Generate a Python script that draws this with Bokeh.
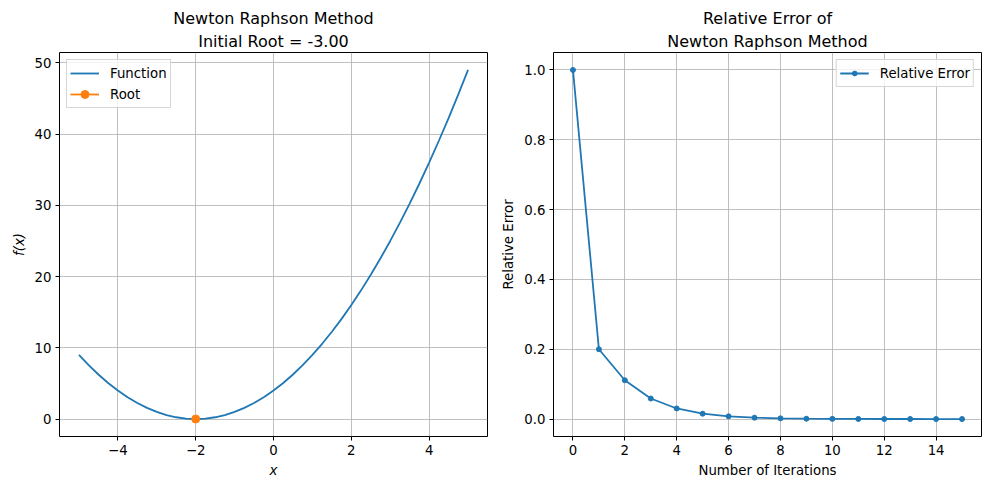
from bokeh.plotting import figure
from bokeh.layouts import row
from bokeh.models import FixedTicker, Title, Range1d, Legend, LegendItem
from bokeh.embed import file_html
from bokeh.resources import INLINE

# ---- data ----
fx = [-5.0, -4.75, -4.5, -4.25, -4.0, -3.75, -3.5, -3.25, -3.0, -2.75, -2.5, -2.25, -2.0,
      -1.75, -1.5, -1.25, -1.0, -0.75, -0.5, -0.25, 0.0, 0.25, 0.5, 0.75, 1.0, 1.25, 1.5,
      1.75, 2.0, 2.25, 2.5, 2.75, 3.0, 3.25, 3.5, 3.75, 4.0, 4.25, 4.5, 4.75, 5.0]
fy = [9.0, 7.5625, 6.25, 5.0625, 4.0, 3.0625, 2.25, 1.5625, 1.0, 0.5625, 0.25, 0.0625, 0.0,
      0.0625, 0.25, 0.5625, 1.0, 1.5625, 2.25, 3.0625, 4.0, 5.0625, 6.25, 7.5625, 9.0,
      10.5625, 12.25, 14.0625, 16.0, 18.0625, 20.25, 22.5625, 25.0, 27.5625, 30.25,
      33.0625, 36.0, 39.0625, 42.25, 45.5625, 49.0]
root_x = [-2.0]
root_y = [0.0]
iterations = [0, 1, 2, 3, 4, 5, 6, 7, 8, 9, 10, 11, 12, 13, 14, 15]
rel_err = [1.0, 0.2, 0.1111, 0.0588, 0.0303, 0.0154, 0.0078, 0.0039, 0.00195, 0.00098,
           0.00049, 0.00024, 0.00012, 0.00006, 0.00003, 0.000015]

left_xticks = [-4, -2, 0, 2, 4]
left_yticks = [0, 10, 20, 30, 40, 50]
right_xticks = [0, 2, 4, 6, 8, 10, 12, 14]
right_yticks = [0.0, 0.2, 0.4, 0.6, 0.8, 1.0]

BLUE = "#1f77b4"
ORANGE = "#ff7f0e"
FONT = "DejaVu Sans"
FS = "13.3px"


def style(p):
    p.outline_line_color = "black"
    p.outline_line_width = 1
    for ax in (p.xaxis[0], p.yaxis[0]):
        ax.axis_line_color = None
        ax.major_tick_in = 0
        ax.major_tick_out = 4
        ax.minor_tick_line_color = None
        ax.major_label_text_font = FONT
        ax.major_label_text_font_size = FS
        ax.major_label_text_color = "black"
        ax.axis_label_text_font = FONT
        ax.axis_label_text_font_size = FS
        ax.axis_label_text_font_style = "normal"
        ax.axis_label_text_color = "black"
        ax.major_label_standoff = 4
    p.grid.grid_line_color = "#b0b0b0"
    p.grid.grid_line_width = 0.8
    p.background_fill_color = "white"
    p.border_fill_color = "white"


def add_titles(p, lines):
    n = len(lines)
    for i, t in enumerate(reversed(lines)):
        p.add_layout(Title(text=t, align="center", text_font=FONT, text_font_size="16px",
                           text_font_style="normal", text_color="black",
                           standoff=4 if i == 0 else 0), "above")


def minus(v):
    s = f"{v:g}"
    return s.replace("-", "\u2212")


# ---- left ----
p1 = figure(width=494, height=489, output_backend="svg", toolbar_location=None,
            x_range=Range1d(-5.5, 5.5), y_range=Range1d(-2.45, 51.45),
            min_border_left=59, min_border_right=7, min_border_top=52, min_border_bottom=53)
style(p1)
p1.xaxis.ticker = FixedTicker(ticks=left_xticks)
p1.yaxis.ticker = FixedTicker(ticks=left_yticks)
p1.xaxis.major_label_overrides = {t: minus(t) for t in left_xticks}
p1.xaxis.axis_label = "x"
p1.yaxis.axis_label = "f(x)"
p1.xaxis.axis_label_text_font_style = "italic"
p1.yaxis.axis_label_text_font_style = "italic"
add_titles(p1, ["Newton Raphson Method", "Initial Root = -3.00"])

r_f = p1.line(fx, fy, line_color=BLUE, line_width=1.8)
r_rl = p1.line(root_x, root_y, line_color=ORANGE, line_width=1.8)
r_rs = p1.scatter(root_x, root_y, size=8, color=ORANGE)
leg1 = Legend(items=[LegendItem(label="Function", renderers=[r_f]),
                     LegendItem(label="Root", renderers=[r_rl, r_rs])],
              location="top_left")
p1.add_layout(leg1, "center")

# ---- right ----
p2 = figure(width=495, height=489, output_backend="svg", toolbar_location=None,
            x_range=Range1d(-0.75, 15.75), y_range=Range1d(-0.05, 1.05),
            min_border_left=59, min_border_right=8, min_border_top=52, min_border_bottom=53)
style(p2)
p2.xaxis.ticker = FixedTicker(ticks=right_xticks)
p2.yaxis.ticker = FixedTicker(ticks=right_yticks)
p2.yaxis.major_label_overrides = {t: f"{t:.1f}" for t in right_yticks}
p2.xaxis.axis_label = "Number of Iterations"
p2.yaxis.axis_label = "Relative Error"
add_titles(p2, ["Relative Error of", "Newton Raphson Method"])

r_el = p2.line(iterations, rel_err, line_color=BLUE, line_width=1.8)
r_es = p2.scatter(iterations, rel_err, size=5, color=BLUE)
leg2 = Legend(items=[LegendItem(label="Relative Error", renderers=[r_el, r_es])],
              location="top_right")
p2.add_layout(leg2, "center")

for leg in (leg1, leg2):
    leg.label_text_font = FONT
    leg.label_text_font_size = FS
    leg.label_text_color = "black"
    leg.border_line_color = "#cccccc"
    leg.border_line_alpha = 0.8
    leg.background_fill_alpha = 0.8
    leg.margin = 7
    leg.padding = 3
    leg.spacing = 1
    leg.label_height = 20
    leg.glyph_height = 20
    leg.glyph_width = 29
    leg.label_standoff = 11
leg2.glyph_height = 12

layout = row(p1, p2)
open("out.html", "w").write(file_html(layout, INLINE))
